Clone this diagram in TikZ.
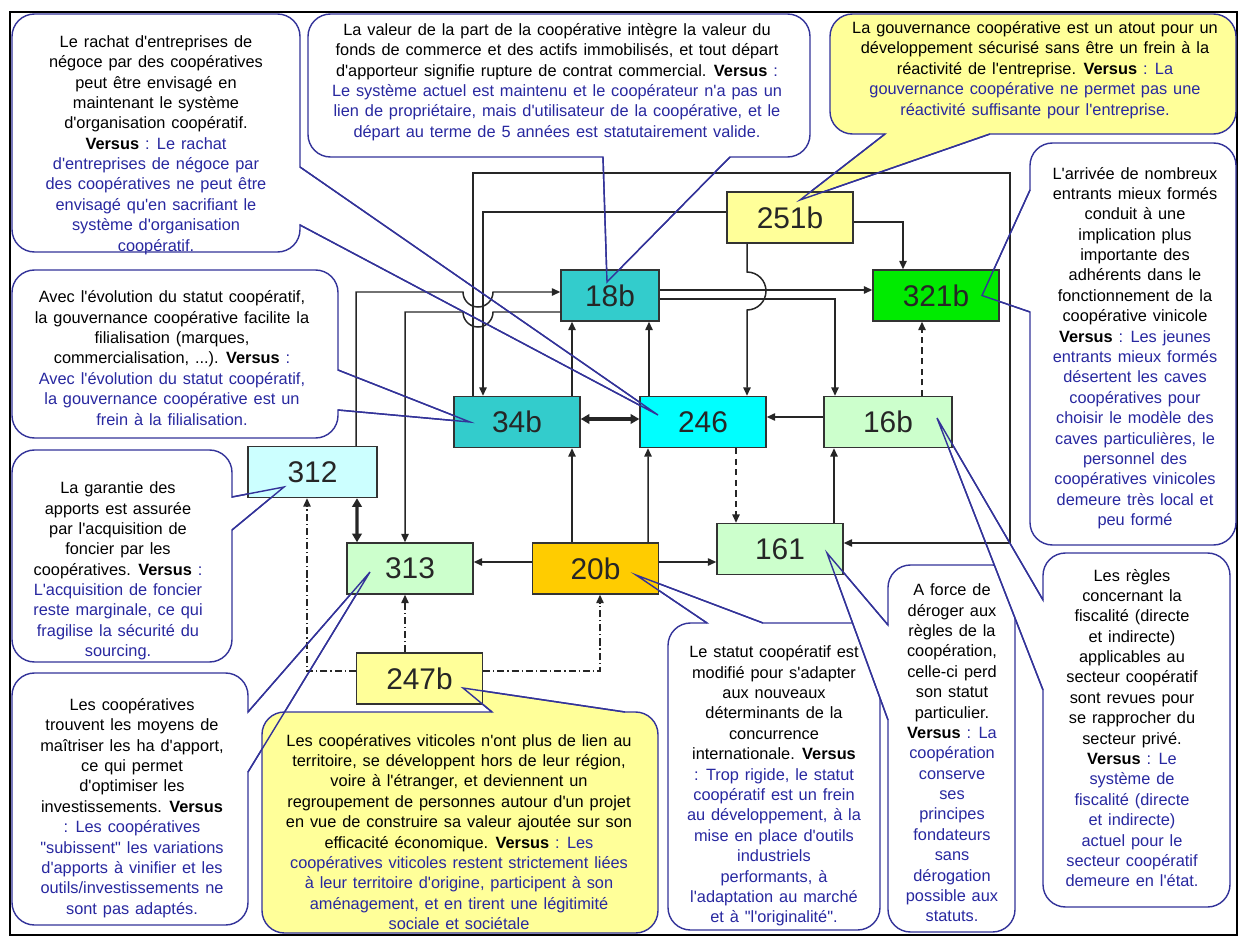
\documentclass[tikz,border=0pt]{standalone}
\usepackage{fontspec}
\setmainfont{Liberation Sans}[Ligatures=TeXOff, WordSpace=1.3]
\usetikzlibrary{arrows.meta,backgrounds,calc}
\definecolor{cyellow}{HTML}{FFFF99}
\definecolor{cteal}{HTML}{33CCCC}
\definecolor{ccyan}{HTML}{00FFFF}
\definecolor{cpale}{HTML}{CCFFCC}
\definecolor{cpaleblue}{HTML}{CCFFFF}
\definecolor{cgreen}{RGB}{0,235,0}
\definecolor{corange}{HTML}{FFCC00}
\definecolor{cline}{RGB}{51,51,153}
\definecolor{cnote}{RGB}{40,40,160}
\tikzset{
    coop diagram/.style = {x=0.02cm, y=-0.02cm,
                           >={Triangle[length=4.8pt,width=4.2pt]}},
    box/.style          = {draw=black!80, line width=0.8pt, inner sep=0pt,
                           minimum width=2.52cm, minimum height=1.02cm,
                           font=\fontsize{17}{20}\selectfont, text=black!85},
    conn/.style         = {draw=black!85, line width=0.85pt},
    dep/.style          = {conn, dash pattern=on 3.5pt off 2.5pt},
    ext/.style          = {conn, dash pattern=on 4pt off 1.7pt on 0.7pt off 1.7pt},
    link/.style         = {draw=black!85, line width=1.8pt,
                           {Triangle[length=5pt,width=5.5pt]}-{Triangle[length=5pt,width=5.5pt]}},
    bubble/.style       = {draw=cline, line width=0.8pt, fill=white,
                           rounded corners=0.45cm},
    ybubble/.style      = {bubble, fill=cyellow},
    pointer/.style      = {draw=cline, line width=0.8pt},
    note/.style         = {align=center, inner sep=0pt,
                           font=\fontsize{9.3}{11.6}\selectfont}
}
\newcommand{\vs}{\textbf{Versus}\color{cnote}}
\newcommand{\bl}{\color{cnote}}

\begin{document}
\begin{tikzpicture}[coop diagram]
\useasboundingbox (0,0) rectangle (1238,936);

% Variables
\node[box, fill=cyellow]                        (b251) at (790,217.5) {251b};
\node[box, fill=cteal, minimum width=1.96cm]    (b18)  at (610,295.5) {18b};
\node[box, fill=cgreen]                         (b321) at (936,295.5) {321b};
\node[box, fill=cteal]                          (b34)  at (517,422)   {34b};
\node[box, fill=ccyan]                          (b246) at (703,422)   {246};
\node[box, fill=cpale, minimum width=2.56cm]    (b16)  at (888,422)   {16b};
\node[box, fill=cpaleblue, minimum width=2.58cm] (b312) at (312.5,472) {312};
\node[box, fill=cpale]                          (b313) at (410,568.5) {313};
\node[box, fill=corange]                        (b20)  at (595.5,568.5) {20b};
\node[box, fill=cpale]                          (b161) at (780,549)   {161};
\node[box, fill=cyellow]                        (b247) at (419.5,678.5) {247b};

% Pointer tips inside the variables
\coordinate (tipA) at ($(b246)+(-45,-7)$);
\coordinate (tipB) at ($(b18)+(-3,-13.5)$);
\coordinate (tipC) at ($(b251)+(10,-17.5)$);
\coordinate (tipD) at ($(b321)+(46,0)$);
\coordinate (tipE) at ($(b34)+(-47,0)$);
\coordinate (tipF) at ($(b312)+(-28.5,15)$);
\coordinate (tipG) at ($(b313)+(-40,3.5)$);
\coordinate (tipH) at ($(b247)+(43.5,9.5)$);
\coordinate (tipI) at ($(b20)+(40.5,6.5)$);
\coordinate (tipJ) at ($(b161)+(47,4)$);
\coordinate (tipK) at ($(b16)+(49,-4)$);

% Callouts
\begin{scope}[on background layer]
    \draw[line width=1.2pt] (10,12) rectangle (1237,935);

    \coordinate (pA1) at (300,167); \coordinate (pA2) at (300,225);
    \draw[bubble] (12,14) -- (300,14) [sharp corners] -- (pA1) -- (tipA) -- (pA2)
        [rounded corners=0.45cm] -- (300,252) -- (12,252) -- cycle;
    \node[note] (tA) at (156,145) {Le rachat d'entreprises de\\négoce par des coopératives\\
        peut être envisagé en\\maintenant le système\\d'organisation coopératif.\\
        \vs{} : Le rachat\\\bl d'entreprises de négoce par\\\bl des coopératives ne peut être\\
        \bl envisagé qu'en sacrifiant le\\\bl système d'organisation\\\bl coopératif.};

    \coordinate (pB1) at (603,157); \coordinate (pB2) at (730,157);
    \draw[bubble] (308,14) -- (810,14) -- (810,157) [sharp corners] -- (pB2) -- (tipB) -- (pB1)
        [rounded corners=0.45cm] -- (308,157) -- cycle;
    \node[note] (tB) at (557,82) {La valeur de la part de la coopérative intègre la valeur du\\
        fonds de commerce et des actifs immobilisés, et tout départ\\
        d'apporteur signifie rupture de contrat commercial. \vs{} :\\
        \bl Le système actuel est maintenu et le coopérateur n'a pas un\\
        \bl lien de propriétaire, mais d'utilisateur de la coopérative, et le\\
        \bl départ au terme de 5 années est statutairement valide.};

    \coordinate (pC1) at (885,134); \coordinate (pC2) at (990,134);
    \draw[ybubble] (830,14) -- (1236,14) -- (1236,134) [sharp corners] -- (pC2) -- (tipC) -- (pC1)
        [rounded corners=0.45cm] -- (830,134) -- cycle;
    \node[note] (tC) at (1035,70) {La gouvernance coopérative est un atout pour un\\
        développement sécurisé sans être un frein à la\\
        réactivité de l'entreprise. \vs{} : La\\
        \bl gouvernance coopérative ne permet pas une\\
        \bl réactivité suffisante pour l'entreprise.};

    \coordinate (pD1) at (1030,190); \coordinate (pD2) at (1030,312);
    \draw[bubble] (1030,143) -- (1236,143) -- (1236,545) -- (1030,545) [sharp corners] -- (pD2)
        -- (tipD) -- (pD1) [rounded corners=0.45cm] -- cycle;
    \node[note] (tD) at (1135,348) {L'arrivée de nombreux\\entrants mieux formés\\conduit à une\\
        implication plus\\importante des\\adhérents dans le\\fonctionnement de la\\
        coopérative vinicole\\\vs{} : Les jeunes\\\bl entrants mieux formés\\
        \bl désertent les caves\\\bl coopératives pour\\\bl choisir le modèle des\\
        \bl caves particulières, le\\\bl personnel des\\\bl coopératives vinicoles\\
        \bl demeure très local et\\\bl peu formé};

    \coordinate (pE1) at (338,370); \coordinate (pE2) at (338,410);
    \draw[bubble] (12,270) -- (338,270) [sharp corners] -- (pE1) -- (tipE) -- (pE2)
        [rounded corners=0.45cm] -- (338,438) -- (12,438) -- cycle;
    \node[note] (tE) at (172,358) {Avec l'évolution du statut coopératif,\\
        la gouvernance coopérative facilite la\\filialisation (marques,\\
        commercialisation, ...). \vs{} :\\\bl Avec l'évolution du statut coopératif,\\
        \bl la gouvernance coopérative est un\\\bl frein à la filialisation.};

    \coordinate (pF1) at (232,497); \coordinate (pF2) at (232,530);
    \draw[bubble] (12,450) -- (232,450) [sharp corners] -- (pF1) -- (tipF) -- (pF2)
        [rounded corners=0.45cm] -- (232,662) -- (12,662) -- cycle;
    \node[note] (tF) at (118,571) {La garantie des\\apports est assurée\\par l'acquisition de\\
        foncier par les\\coopératives. \vs{} :\\\bl L'acquisition de foncier\\
        \bl reste marginale, ce qui\\\bl fragilise la sécurité du\\\bl sourcing.};

    \coordinate (pG1) at (248,712); \coordinate (pG2) at (248,772);
    \draw[bubble] (12,673) -- (248,673) [sharp corners] -- (pG1) -- (tipG) -- (pG2)
        [rounded corners=0.45cm] -- (248,925) -- (12,925) -- cycle;
    \node[note] (tG) at (132,808) {Les coopératives\\trouvent les moyens de\\
        maîtriser les ha d'apport,\\ce qui permet\\d'optimiser les\\
        investissements. \textbf{Versus}\\\bl : Les coopératives\\
        \bl "subissent" les variations\\\bl d'apports à vinifier et les\\
        \bl outils/investissements ne\\\bl sont pas adaptés.};

    \coordinate (pH1) at (492,712); \coordinate (pH2) at (625,712);
    \draw[ybubble] (262,933) -- (262,712) [sharp corners] -- (pH1) -- (tipH) -- (pH2)
        [rounded corners=0.45cm] -- (658,712) -- (658,933) -- cycle;
    \node[note] (tH) at (459,832) {Les coopératives viticoles n'ont plus de lien au\\
        territoire, se développent hors de leur région,\\
        voire à l'étranger, et deviennent un\\
        regroupement de personnes autour d'un projet\\
        en vue de construire sa valeur ajoutée sur son\\
        efficacité économique. \vs{} : Les\\
        \bl coopératives viticoles restent strictement liées\\
        \bl à leur territoire d'origine, participent à son\\
        \bl aménagement, et en tirent une légitimité\\\bl sociale et sociétale};

    \coordinate (pI1) at (707,623); \coordinate (pI2) at (763,623);
    \draw[bubble] (668,930) -- (668,623) [sharp corners] -- (pI1) -- (tipI) -- (pI2)
        [rounded corners=0.45cm] -- (880,623) -- (880,930) -- cycle;
    \node[note] (tI) at (774,786) {Le statut coopératif est\\modifié pour s'adapter\\
        aux nouveaux\\déterminants de la\\concurrence\\internationale. \textbf{Versus}\\
        \bl : Trop rigide, le statut\\\bl coopératif est un frein\\
        \bl au développement, à la\\\bl mise en place d'outils\\\bl industriels\\\bl performants, à\\
        \bl l'adaptation au marché\\\bl et à "l'originalité".};

    \coordinate (pJ1) at (888,625); \coordinate (pJ2) at (888,720);
    \draw[bubble] (888,565) -- (1015,565) -- (1015,932) -- (888,932) [sharp corners] -- (pJ2)
        -- (tipJ) -- (pJ1) [rounded corners=0.45cm] -- cycle;
    \node[note] (tJ) at (952,753) {A force de\\déroger aux\\règles de la\\coopération,\\
        celle-ci perd\\son statut\\particulier.\\\vs{} : La\\\bl coopération\\\bl conserve\\
        \bl ses\\\bl principes\\\bl fondateurs\\\bl sans\\\bl dérogation\\\bl possible aux\\\bl statuts.};

    \coordinate (pK1) at (1043,600); \coordinate (pK2) at (1043,690);
    \draw[bubble] (1043,553) -- (1230,553) -- (1230,907) -- (1043,907) [sharp corners] -- (pK2)
        -- (tipK) -- (pK1) [rounded corners=0.45cm] -- cycle;
    \node[note] (tK) at (1132,728) {Les règles\\concernant la\\fiscalité (directe\\
        et indirecte)\\applicables au\\secteur coopératif\\sont revues pour\\
        se rapprocher du\\secteur privé.\\\vs{} : Le\\\bl système de\\
        \bl fiscalité (directe\\\bl et indirecte)\\\bl actuel pour le\\\bl secteur coopératif\\
        \bl demeure en l'état.};
\end{scope}

% Influences
\coordinate (loopNE) at (1010,173);
\draw[conn, ->] ($(b34.north)+(-44,0)$) |- (loopNE) |- ($(b161.east)+(0,-6)$);
\draw[conn, ->] ($(b251.west)+(0,-5.5)$) -| ($(b34.north)+(-34,0)$);

% Line jumps over the two verticals
\coordinate (hopA) at (478,292);
\coordinate (hopB) at (478,312);
\draw[conn, ->] ($(b312.north)+(43.5,0)$) |- ($(hopA)+(-15,0)$)
    arc[start angle=180, end angle=0, radius=15] -- (hopA -| b18.west);
\draw[conn, ->] (hopB -| b18.west) -- ($(hopB)+(15,0)$)
    arc[start angle=0, end angle=180, radius=15] -| ($(b313.north)+(-5,0)$);

\draw[conn, ->] ($(b18.east)+(0,-5.5)$) -- ($(b321.west)+(0,-5.5)$);
\draw[conn, ->] ($(b18.east)+(0,3.5)$) -| ($(b16.north)+(-53,0)$);

\coordinate (hopC) at (747,291);
\draw[conn, ->] ($(b251.south)+(-43,0)$) -- ($(hopC)+(0,-19)$)
    arc[start angle=270, end angle=450, radius=19] -- ($(b246.north)+(44,0)$);

\draw[conn, ->] ($(b251.east)+(0,4.5)$) -| ($(b321.north)+(-33,0)$);
\draw[dep, ->]  ($(b16.north)+(34,0)$) -- ($(b321.south)+(-14,0)$);
\draw[conn, ->] ($(b16.west)+(0,-5)$) -- ($(b246.east)+(0,-5)$);
\draw[link]     ($(b34.east)+(0,-3)$) -- ($(b246.west)+(0,-3)$);

\draw[conn, ->] ($(b34.north)+(55,0)$)   -- ($(b18.south)+(-38,0)$);
\draw[conn, ->] ($(b246.north)+(-54,0)$) -- ($(b18.south)+(39,0)$);
\draw[conn, ->] ($(b20.north)+(-23.5,0)$) -- ($(b34.south)+(55,0)$);
\draw[conn, ->] ($(b20.north)+(52.5,0)$)  -- ($(b246.south)+(-55,0)$);
\draw[conn, ->] ($(b20.west)+(0,-6.5)$) -- ($(b313.east)+(0,-6.5)$);
\draw[conn, ->] ($(b20.east)+(0,-6.5)$) -- ($(b161.west)+(0,13)$);
\draw[dep, ->]  ($(b246.south)+(33,0)$) -- ($(b161.north)+(-44,0)$);
\draw[conn, ->] ($(b161.north)+(54,0)$) -- ($(b16.south)+(-54,0)$);
\draw[link]     ($(b312.south)+(44.5,0)$) -- ($(b313.north)+(-53,0)$);

\draw[ext, ->] ($(b247.north)+(-14.5,0)$) -- ($(b313.south)+(-5,0)$);
\draw[ext, ->] ($(b247.east)+(0,-7.5)$) -| ($(b20.south)+(4.5,0)$);
\draw[ext, ->] ($(b247.west)+(0,-7.5)$) -| ($(b312.south)+(-5.5,0)$);

% Callout pointers over the boxes
\foreach \c in {A,B,C,D,E,F,G,H,I,J,K}
    \draw[pointer] (p\c1) -- (tip\c) -- (p\c2);

\end{tikzpicture}
\end{document}
